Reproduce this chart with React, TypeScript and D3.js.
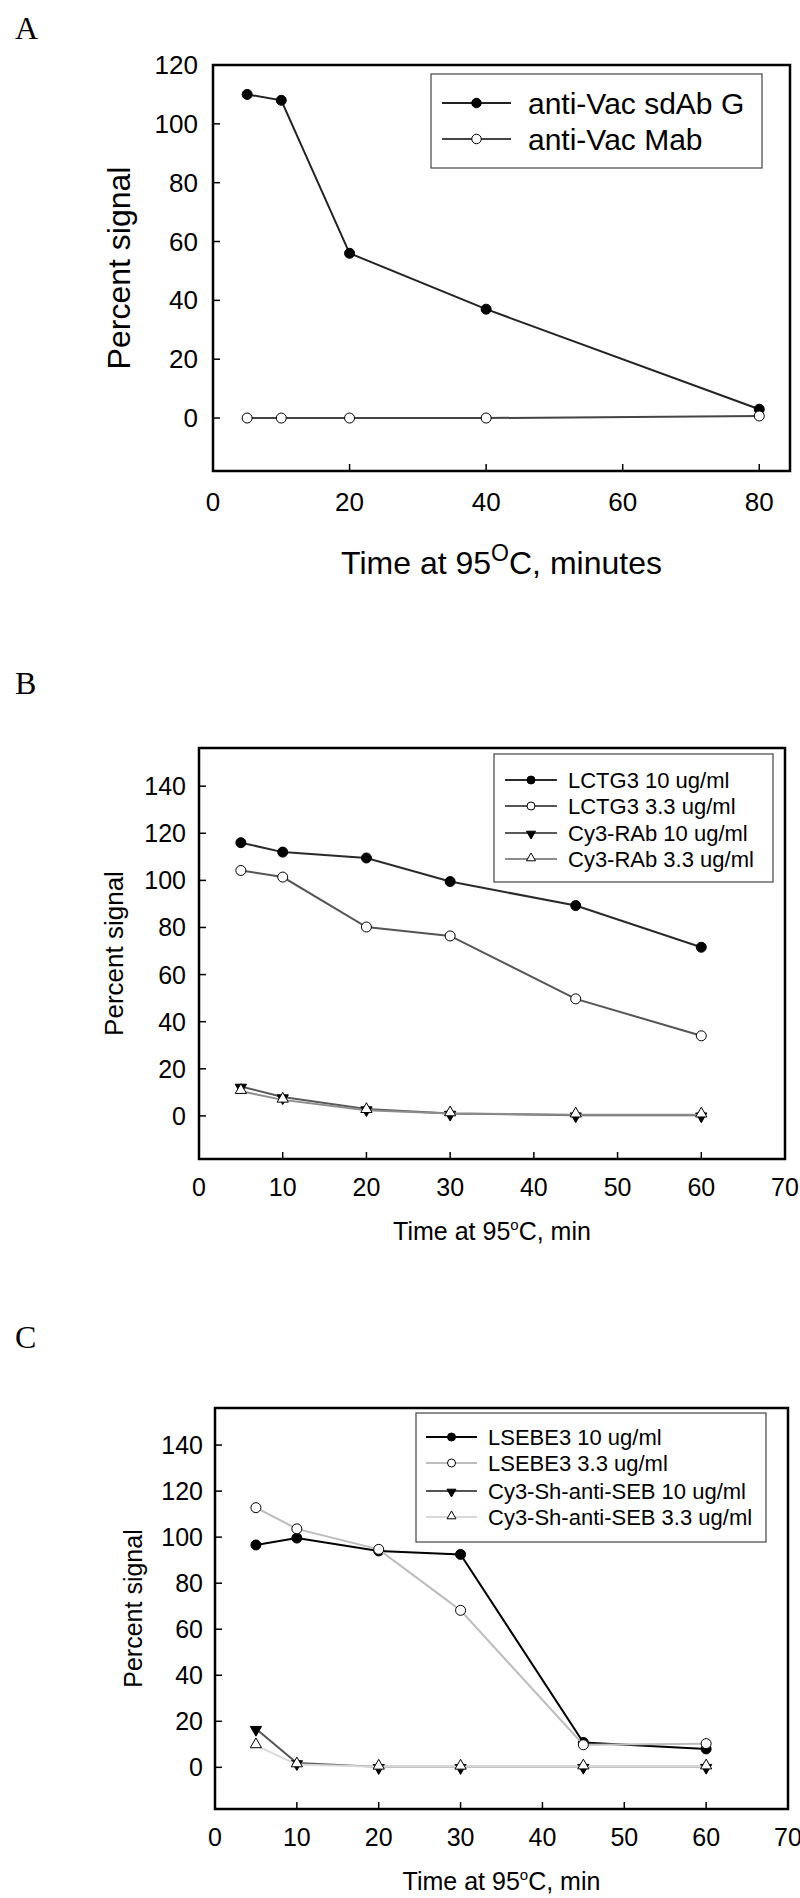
import React from "react";
import * as d3 from "d3";

// ---------- Data ----------
const A_time = [5, 10, 20, 40, 80];
const A_sdAbG = [110, 108, 56, 37, 3];
const A_mab = [0, 0, 0, 0, 0.7];
const A_xTicks = [0, 20, 40, 60, 80];
const A_yTicks = [0, 20, 40, 60, 80, 100, 120];
const A_labels = ["anti-Vac sdAb G", "anti-Vac Mab"];

const B_time = [5, 10, 20, 30, 45, 60];
const B_lctg10 = [116, 112, 109.5, 99.5, 89.3, 71.6];
const B_lctg33 = [104.2, 101.4, 80.2, 76.4, 49.7, 34];
const B_rab10 = [12.5, 8, 2.9, 1, 0.3, 0.3];
const B_rab33 = [10.5, 6.8, 2.4, 1, 0.5, 0.5];
const B_labels = ["LCTG3 10 ug/ml", "LCTG3 3.3 ug/ml", "Cy3-RAb 10 ug/ml", "Cy3-RAb 3.3 ug/ml"];

const C_time = [5, 10, 20, 30, 45, 60];
const C_lsebe10 = [96.6, 99.6, 94, 92.5, 10.8, 8];
const C_lsebe33 = [112.8, 103.6, 94.7, 68.2, 9.8, 10.3];
const C_sh10 = [16.8, 1.9, 0.2, 0.2, 0.3, 0.3];
const C_sh33 = [9.5, 1.2, 0.2, 0.2, 0.3, 0.3];
const C_labels = ["LSEBE3 10 ug/ml", "LSEBE3 3.3 ug/ml", "Cy3-Sh-anti-SEB 10 ug/ml", "Cy3-Sh-anti-SEB 3.3 ug/ml"];

const BC_xTicks = [0, 10, 20, 30, 40, 50, 60, 70];
const BC_yTicks = [0, 20, 40, 60, 80, 100, 120, 140];

const SANS = "'Liberation Sans', Arial, sans-serif";
const SERIF = "'Liberation Serif', 'Times New Roman', serif";

type MarkerKind = "filledCircle" | "openCircle" | "downTri" | "upTri";

interface Series {
  x: number[];
  y: number[];
  color: string;
  marker: MarkerKind;
  label: string;
}

function Marker({ kind, cx, cy, scale }: { kind: MarkerKind; cx: number; cy: number; scale: number }) {
  if (kind === "filledCircle" || kind === "openCircle") {
    return (
      <circle
        cx={cx}
        cy={cy}
        r={5 * scale}
        fill={kind === "filledCircle" ? "#000" : "#fff"}
        stroke="#000"
        strokeWidth={1}
      />
    );
  }
  const path = d3.symbol().type(d3.symbolTriangle).size(55 * scale * scale)()!;
  return (
    <path
      d={path}
      transform={`translate(${cx},${cy + (kind === "downTri" ? 1 : -1) * scale}) rotate(${kind === "downTri" ? 180 : 0})`}
      fill={kind === "downTri" ? "#000" : "#fff"}
      stroke="#000"
      strokeWidth={1}
    />
  );
}

interface PanelProps {
  letter: string;
  letterY: number;
  box: { l: number; r: number; t: number; b: number };
  xDomain: [number, number];
  yDomain: [number, number];
  xTicks: number[];
  yTicks: number[];
  series: Series[];
  tickFont: number;
  yLabelX: number;
  yLabelFont: number;
  xLabelY: number;
  xLabelFont: number;
  xLabelBig: boolean;
  xTickLabelOffset: number;
  yTickLabelGap: number;
  legend: { l: number; r: number; t: number; b: number; rows: number[]; lineL: number; lineR: number; textX: number; font: number; mScale: number };
  boxStroke: number;
}

function Panel(p: PanelProps) {
  const x = d3.scaleLinear().domain(p.xDomain).range([p.box.l, p.box.r]);
  const y = d3.scaleLinear().domain(p.yDomain).range([p.box.b, p.box.t]);
  const line = d3
    .line<[number, number]>()
    .x((d) => x(d[0]))
    .y((d) => y(d[1]));
  const tickLen = 7;
  const xMid = (p.box.l + p.box.r) / 2;
  const yMid = (p.box.t + p.box.b) / 2;
  return (
    <g>
      <text x={15} y={p.letterY} fontFamily={SERIF} fontSize={32} fill="#000">
        {p.letter}
      </text>
      {/* ticks */}
      {p.xTicks.map((t) => (
        <g key={"xt" + t}>
          <line x1={x(t)} x2={x(t)} y1={p.box.b} y2={p.box.b - tickLen} stroke="#000" strokeWidth={1.5} />
          <text
            x={x(t)}
            y={p.box.b + p.xTickLabelOffset}
            textAnchor="middle"
            dominantBaseline="central"
            fontFamily={SANS}
            fontSize={p.tickFont}
            fill="#000"
          >
            {t}
          </text>
        </g>
      ))}
      {p.yTicks.map((t) => (
        <g key={"yt" + t}>
          <line x1={p.box.l} x2={p.box.l + tickLen} y1={y(t)} y2={y(t)} stroke="#000" strokeWidth={1.5} />
          <text
            x={p.box.l - p.yTickLabelGap}
            y={y(t)}
            textAnchor="end"
            dominantBaseline="central"
            fontFamily={SANS}
            fontSize={p.tickFont}
            fill="#000"
          >
            {t}
          </text>
        </g>
      ))}
      {/* series */}
      {p.series.map((s, i) => {
        const pts = s.x.map((v, j) => [v, s.y[j]] as [number, number]);
        return (
          <g key={"s" + i}>
            <path d={line(pts)!} fill="none" stroke={s.color} strokeWidth={2} />
            {pts.map((d, j) => (
              <Marker key={j} kind={s.marker} cx={x(d[0])} cy={y(d[1])} scale={1} />
            ))}
          </g>
        );
      })}
      {/* frame */}
      <rect
        x={p.box.l}
        y={p.box.t}
        width={p.box.r - p.box.l}
        height={p.box.b - p.box.t}
        fill="none"
        stroke="#000"
        strokeWidth={p.boxStroke}
      />
      {/* legend */}
      <rect
        x={p.legend.l}
        y={p.legend.t}
        width={p.legend.r - p.legend.l}
        height={p.legend.b - p.legend.t}
        fill="#fff"
        stroke="#444"
        strokeWidth={1.2}
      />
      {p.series.map((s, i) => {
        const ry = p.legend.rows[i];
        return (
          <g key={"lg" + i}>
            <line x1={p.legend.lineL} x2={p.legend.lineR} y1={ry} y2={ry} stroke={s.color} strokeWidth={2} />
            <Marker kind={s.marker} cx={(p.legend.lineL + p.legend.lineR) / 2} cy={ry} scale={p.legend.mScale} />
            <text
              x={p.legend.textX}
              y={ry}
              dominantBaseline="central"
              fontFamily={SANS}
              fontSize={p.legend.font}
              fill="#000"
            >
              {s.label}
            </text>
          </g>
        );
      })}
      {/* axis labels */}
      <text
        transform={`translate(${p.yLabelX},${yMid}) rotate(-90)`}
        textAnchor="middle"
        fontFamily={SANS}
        fontSize={p.yLabelFont}
        fill="#000"
      >
        Percent signal
      </text>
      {p.xLabelBig ? (
        <text x={xMid} y={p.xLabelY} textAnchor="middle" fontFamily={SANS} fontSize={p.xLabelFont} fill="#000">
          Time at 95
          <tspan fontSize={p.xLabelFont * 0.72} dy={-p.xLabelFont * 0.42}>
            O
          </tspan>
          <tspan dy={p.xLabelFont * 0.42}>C, minutes</tspan>
        </text>
      ) : (
        <text x={xMid} y={p.xLabelY} textAnchor="middle" fontFamily={SANS} fontSize={p.xLabelFont} fill="#000">
          Time at 95
          <tspan fontSize={p.xLabelFont * 0.6} dy={-p.xLabelFont * 0.42}>
            o
          </tspan>
          <tspan dy={p.xLabelFont * 0.42}>C, min</tspan>
        </text>
      )}
    </g>
  );
}

export default function App() {
  const seriesA: Series[] = [
    { x: A_time, y: A_sdAbG, color: "#222", marker: "filledCircle", label: A_labels[0] },
    { x: A_time, y: A_mab, color: "#444", marker: "openCircle", label: A_labels[1] },
  ];
  const seriesB: Series[] = [
    { x: B_time, y: B_lctg10, color: "#2a2a2a", marker: "filledCircle", label: B_labels[0] },
    { x: B_time, y: B_lctg33, color: "#555", marker: "openCircle", label: B_labels[1] },
    { x: B_time, y: B_rab10, color: "#5a5a5a", marker: "downTri", label: B_labels[2] },
    { x: B_time, y: B_rab33, color: "#8c8c8c", marker: "upTri", label: B_labels[3] },
  ];
  const seriesC: Series[] = [
    { x: C_time, y: C_lsebe10, color: "#000", marker: "filledCircle", label: C_labels[0] },
    { x: C_time, y: C_lsebe33, color: "#bdbdbd", marker: "openCircle", label: C_labels[1] },
    { x: C_time, y: C_sh10, color: "#555", marker: "downTri", label: C_labels[2] },
    { x: C_time, y: C_sh33, color: "#d9d9d9", marker: "upTri", label: C_labels[3] },
  ];
  return (
    <svg
      width={800}
      height={1898}
      style={{ position: "absolute", left: 0, top: 0, background: "#fff" }}
    >
      <rect x={0} y={0} width={800} height={1898} fill="#fff" />
      <Panel
        letter="A"
        letterY={39}
        box={{ l: 213, r: 790, t: 65, b: 471 }}
        xDomain={[0, 84.5]}
        yDomain={[-18, 120]}
        xTicks={A_xTicks}
        yTicks={A_yTicks}
        series={seriesA}
        tickFont={26}
        yLabelX={130}
        yLabelFont={32}
        xLabelY={574}
        xLabelFont={32}
        xLabelBig={true}
        xTickLabelOffset={31}
        yTickLabelGap={15}
        legend={{ l: 431, r: 762, t: 74, b: 168, rows: [103, 139], lineL: 442, lineR: 511, textX: 528, font: 30, mScale: 0.95 }}
        boxStroke={2.5}
      />
      <Panel
        letter="B"
        letterY={694}
        box={{ l: 199, r: 785, t: 748, b: 1159 }}
        xDomain={[0, 70]}
        yDomain={[-18.3, 156.2]}
        xTicks={BC_xTicks}
        yTicks={BC_yTicks}
        series={seriesB}
        tickFont={25}
        yLabelX={123}
        yLabelFont={26}
        xLabelY={1240}
        xLabelFont={25}
        xLabelBig={false}
        xTickLabelOffset={28}
        yTickLabelGap={13}
        legend={{ l: 494, r: 773, t: 754, b: 882, rows: [780, 806, 833, 859], lineL: 505, lineR: 557, textX: 568, font: 22, mScale: 0.8 }}
        boxStroke={2.5}
      />
      <Panel
        letter="C"
        letterY={1348}
        box={{ l: 215, r: 788, t: 1408, b: 1809 }}
        xDomain={[0, 70]}
        yDomain={[-18.1, 156.1]}
        xTicks={BC_xTicks}
        yTicks={BC_yTicks}
        series={seriesC}
        tickFont={25}
        yLabelX={142}
        yLabelFont={25}
        xLabelY={1890}
        xLabelFont={25}
        xLabelBig={false}
        xTickLabelOffset={28}
        yTickLabelGap={12}
        legend={{ l: 416, r: 766, t: 1413, b: 1542, rows: [1437, 1463, 1491, 1517], lineL: 426, lineR: 477, textX: 488, font: 22, mScale: 0.8 }}
        boxStroke={2.5}
      />
    </svg>
  );
}
